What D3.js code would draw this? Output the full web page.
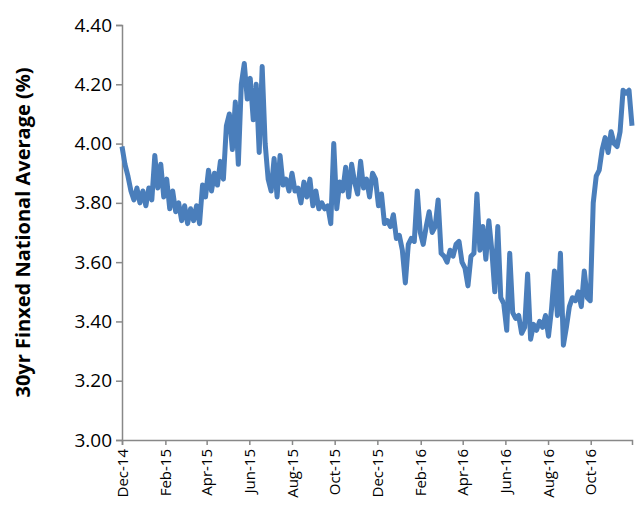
<!DOCTYPE html>
<html><head><meta charset="utf-8">
<script src="https://cdn.jsdelivr.net/npm/d3@7"></script>
<style>body{margin:0;background:#fff}text{font-family:"Open Sans","Liberation Sans",sans-serif}</style>
</head><body><svg id="chart"></svg>
<script>
// weekly-ish readings from Dec 1 2014
const rates = [3.99,3.93,3.89,3.84,3.81,3.85,3.80,3.84,3.79,3.85,3.81,3.96,3.85,3.93,3.82,3.88,3.78,3.84,3.77,3.80,3.74,3.79,3.73,3.78,3.74,3.79,3.73,3.86,3.82,3.91,3.84,3.90,3.86,3.94,3.88,4.06,4.10,3.98,4.14,3.93,4.20,4.27,4.15,4.22,4.08,4.20,3.97,4.26,4.00,3.88,3.84,3.95,3.82,3.96,3.86,3.88,3.84,3.90,3.84,3.85,3.80,3.87,3.82,3.88,3.79,3.84,3.78,3.80,3.78,3.79,3.73,4.00,3.78,3.87,3.84,3.92,3.82,3.93,3.87,3.83,3.94,3.85,3.88,3.82,3.90,3.88,3.79,3.83,3.73,3.74,3.72,3.76,3.68,3.69,3.64,3.53,3.66,3.68,3.67,3.84,3.70,3.66,3.72,3.77,3.70,3.72,3.81,3.63,3.62,3.60,3.64,3.62,3.66,3.67,3.60,3.58,3.52,3.62,3.63,3.83,3.64,3.72,3.61,3.74,3.64,3.50,3.72,3.48,3.46,3.37,3.63,3.43,3.41,3.42,3.36,3.38,3.56,3.34,3.39,3.37,3.40,3.38,3.42,3.35,3.44,3.57,3.42,3.63,3.32,3.38,3.45,3.48,3.47,3.50,3.45,3.57,3.48,3.47,3.80,3.89,3.91,3.98,4.02,3.97,4.04,4.00,3.99,4.04,4.18,4.17,4.18,4.06];
const startDate = new Date(2014, 11, 1);
const endDate = new Date(2016, 10, 29);
const yTicks = [3.00,3.20,3.40,3.60,3.80,4.00,4.20,4.40];
const yLabel = "30yr Finxed National Average (%)";

const width = 636, height = 515;
const margin = {top: 25, right: 4, bottom: 75, left: 122};
const svg = d3.select("#chart").attr("width", width).attr("height", height);

const step = (endDate - startDate) / (rates.length - 1);
const data = rates.map((v, i) => ({date: new Date(+startDate + i * step), value: v}));

const x = d3.scaleTime().domain([startDate, endDate]).range([margin.left, width - margin.right]);
const y = d3.scaleLinear().domain([3, 4.4]).range([height - margin.bottom, margin.top]);

const monthTicks = d3.timeMonth.range(startDate, endDate, 2);

svg.append("g")
    .attr("transform", `translate(0,${height - margin.bottom})`)
    .call(d3.axisBottom(x).tickValues(monthTicks).tickFormat(d3.timeFormat("%b-%y")).tickSize(5))
    .call(g => g.selectAll("path,line").attr("stroke", "#888").attr("stroke-width", 1.5))
    .call(g => g.selectAll("text").attr("font-size", 15).attr("fill", "#000")
        .attr("transform", "rotate(-90)").attr("text-anchor", "end")
        .attr("x", -9).attr("y", 0).attr("dy", "0.35em"));

svg.append("g")
    .attr("transform", `translate(${margin.left},0)`)
    .call(d3.axisLeft(y).tickValues(yTicks).tickFormat(d3.format(".2f")).tickSize(6))
    .call(g => g.selectAll("path,line").attr("stroke", "#888").attr("stroke-width", 1.5))
    .call(g => g.selectAll("text").attr("font-size", 19).attr("fill", "#000").attr("x", -10));

svg.append("text")
    .attr("transform", `translate(30,${(margin.top + height - margin.bottom) / 2}) rotate(-90)`)
    .attr("text-anchor", "middle")
    .attr("font-size", 20).attr("font-weight", "bold")
    .text(yLabel);

const line = d3.line().x(d => x(d.date)).y(d => y(d.value));
svg.append("path").datum(data)
    .attr("d", line)
    .attr("fill", "none")
    .attr("stroke", "#4a7ebb")
    .attr("stroke-width", 5)
    .attr("stroke-linejoin", "round");
</script></body></html>
